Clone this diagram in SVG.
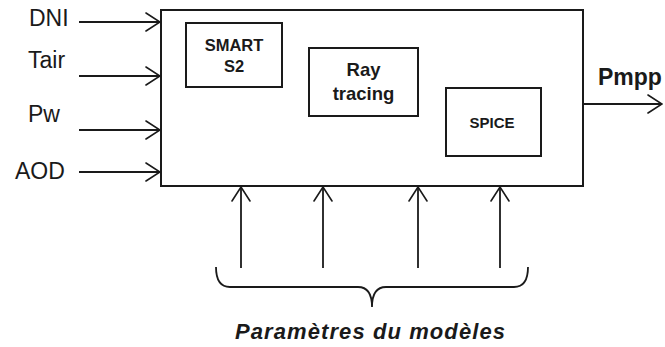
<svg xmlns="http://www.w3.org/2000/svg" width="665" height="347" viewBox="0 0 665 347">
  <defs>
    <style>
      .box { fill: #ffffff; stroke: #1a1a1a; stroke-width: 2; }
      .line { fill: none; stroke: #1a1a1a; stroke-width: 1.8; }
      .head { fill: none; stroke: #1a1a1a; stroke-width: 1.6; stroke-linecap: round; stroke-linejoin: miter; }
      .lbl { font-family: "Liberation Sans", Arial, sans-serif; font-size: 23px; fill: #1a1a1a; }
      .blk { font-family: "Liberation Sans", Arial, sans-serif; font-weight: bold; fill: #1a1a1a; text-anchor: middle; }
      .note { font-family: "Liberation Sans", Arial, sans-serif; font-weight: bold; font-style: italic; font-size: 22px; fill: #1a1a1a; }
    </style>
    <marker id="open" viewBox="0 0 16 20" refX="15" refY="10" markerWidth="16" markerHeight="20" markerUnits="userSpaceOnUse" orient="auto">
      <path class="head" d="M1,1 L15,10 L1,19"/>
    </marker>
  </defs>
  <rect width="665" height="347" fill="#ffffff"/>

  <!-- main block with its three sub-models -->
  <g id="system">
    <rect class="box" x="161" y="10" width="422" height="176"/>
  </g>
  <g id="smart-s2">
    <rect class="box" x="186" y="23" width="96" height="64" stroke-width="1.8"/>
    <text class="blk" x="234" y="51" font-size="16.5">SMART</text>
    <text class="blk" x="234" y="72" font-size="16.5">S2</text>
  </g>
  <g id="ray-tracing">
    <rect class="box" x="309" y="48" width="109" height="68" stroke-width="1.8"/>
    <text class="blk" x="363.5" y="76" font-size="18.5">Ray</text>
    <text class="blk" x="363.5" y="100" font-size="18.5">tracing</text>
  </g>
  <g id="spice">
    <rect class="box" x="446" y="88" width="95" height="68" stroke-width="1.8"/>
    <text class="blk" x="492" y="128" font-size="15">SPICE</text>
  </g>

  <!-- input, output and parameter labels -->
  <g id="inputs">
    <text class="lbl" x="29" y="26">DNI</text>
    <text class="lbl" x="28" y="68">Tair</text>
    <text class="lbl" x="28" y="122">Pw</text>
    <text class="lbl" x="15" y="179">AOD</text>
  </g>
  <g id="output">
    <text class="lbl" x="598" y="85" font-weight="bold">Pmpp</text>
  </g>
  <g id="parameters">
    <path class="line" d="M216,267 Q216,287 230,287 L358,287 Q372,287 372,307 Q372,287 386,287 L514,287 Q528,287 528,267"/>
    <text class="note" x="235" y="339" textLength="270" lengthAdjust="spacing">Paramètres du modèles</text>
  </g>

  <!-- connectors -->
  <g id="connectors">
    <line class="line" x1="79" y1="22" x2="160" y2="22" marker-end="url(#open)"/>
    <line class="line" x1="79" y1="76" x2="160" y2="76" marker-end="url(#open)"/>
    <line class="line" x1="79" y1="130" x2="160" y2="130" marker-end="url(#open)"/>
    <line class="line" x1="79" y1="172" x2="160" y2="172" marker-end="url(#open)"/>
    <line class="line" x1="583" y1="104" x2="662" y2="104" marker-end="url(#open)"/>
    <line class="line" x1="241" y1="268" x2="241" y2="187" marker-end="url(#open)"/>
    <line class="line" x1="323" y1="268" x2="323" y2="187" marker-end="url(#open)"/>
    <line class="line" x1="418" y1="268" x2="418" y2="187" marker-end="url(#open)"/>
    <line class="line" x1="500" y1="268" x2="500" y2="187" marker-end="url(#open)"/>
  </g>
</svg>
